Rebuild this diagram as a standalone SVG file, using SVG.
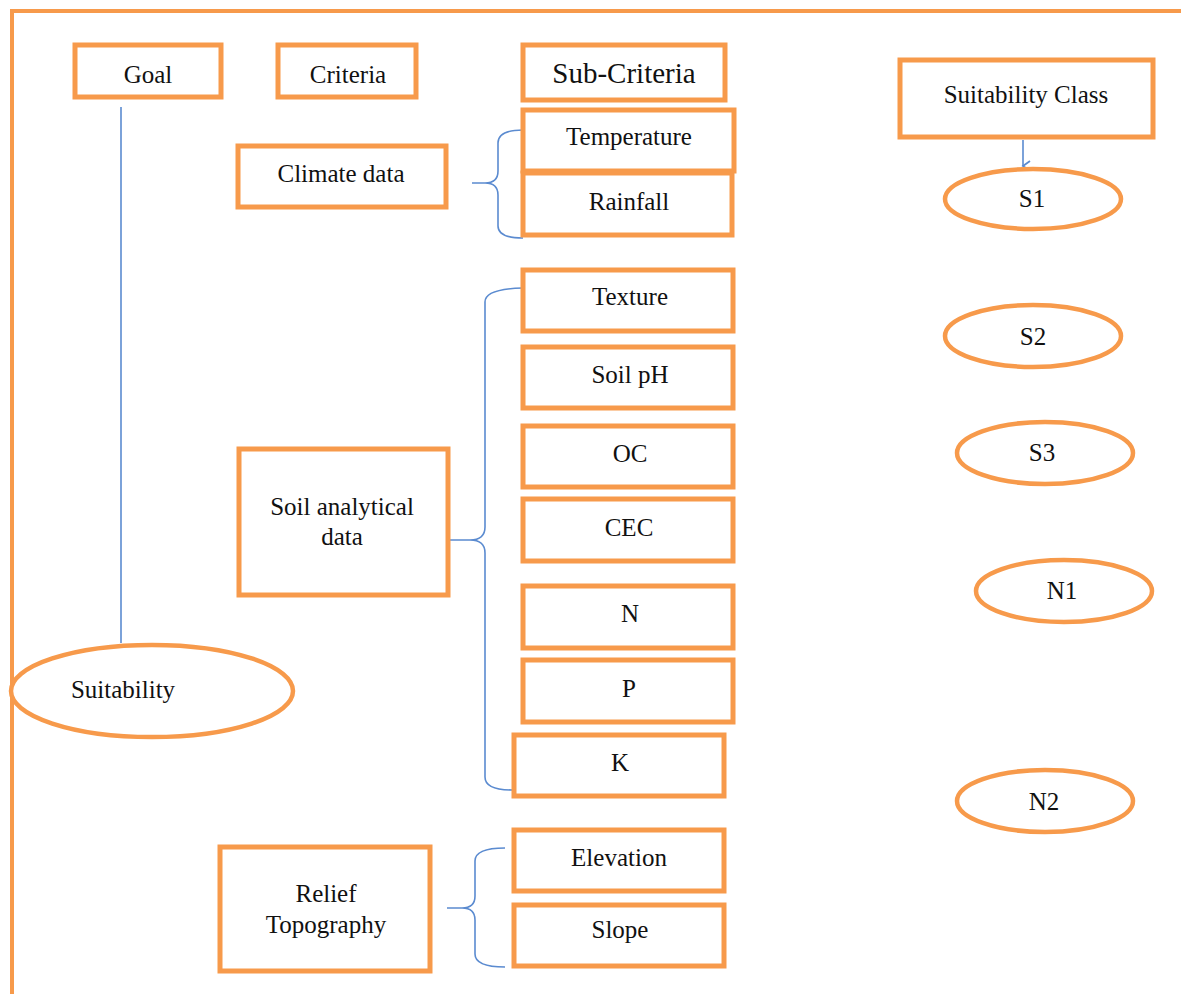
<svg xmlns="http://www.w3.org/2000/svg" width="1181" height="994" viewBox="0 0 1181 994">
<style>
.box{fill:#fff;stroke:#F79A4B;stroke-width:5}
.ov{fill:#fff;stroke:#F79A4B;stroke-width:4.5}
.frame{fill:none;stroke:#F79A4B;stroke-width:4}
.ln{fill:none;stroke:#5B8BD0;stroke-width:1.6}
text{font-family:'Liberation Serif','DejaVu Serif',serif;font-size:25px;fill:#111;text-anchor:middle}
.big{font-size:29px}
</style>
<defs>
<marker id="arr" markerWidth="14" markerHeight="14" refX="7" refY="12" orient="auto" markerUnits="userSpaceOnUse" viewBox="0 0 14 14">
<path d="M2,5 L7,12 L12,5" fill="none" stroke="#5B8BD0" stroke-width="1.8"/>
</marker>
</defs>
<rect width="1181" height="994" fill="#fff"/>
<path class="frame" d="M12,994 L12,11 L1181,11"/>
<g id="connectors">
<line class="ln" x1="121" y1="107" x2="121" y2="643"/>
<path class="ln" d="M1023,140 L1023,166" marker-end="url(#arr)"/>
<path class="ln" d="M472,183 L485,183 Q498,183 498,171 L498,143 Q498,130 523,130 M485,183 Q498,183 498,195 L498,226 Q498,238 523,238"/>
<path class="ln" d="M448,540 L470,540 Q485,540 485,527 L485,302 Q485,289 523,288 M470,540 Q485,540 485,553 L485,777 Q485,790 512,790"/>
<path class="ln" d="M447,908 L462,908 Q475,908 475,896 L475,861 Q475,848 505,848 M462,908 Q475,908 475,920 L475,954 Q475,967 505,967"/>
</g>
<g id="goal"><rect class="box" x="75" y="45" width="146" height="52"/><text x="148" y="83">Goal</text></g>
<g id="criteria"><rect class="box" x="278" y="45" width="138" height="52"/><text x="348" y="83">Criteria</text></g>
<g id="subcriteria"><rect class="box" x="523" y="45" width="202" height="55"/><text class="big" x="624" y="83">Sub-Criteria</text></g>
<g id="suitclass"><rect class="box" x="900" y="60" width="253" height="77"/><text x="1026" y="103">Suitability Class</text></g>
<g id="climate"><rect class="box" x="238" y="146" width="208" height="61"/><text x="341" y="182">Climate data</text></g>
<g id="temperature"><rect class="box" x="523" y="110" width="211" height="61"/><text x="629" y="145">Temperature</text></g>
<g id="rainfall"><rect class="box" x="523" y="173" width="209" height="62"/><text x="629" y="210">Rainfall</text></g>
<g id="soil"><rect class="box" x="239" y="449" width="209" height="146"/><text x="342" y="515">Soil analytical</text><text x="342" y="545">data</text></g>
<g id="texture"><rect class="box" x="523" y="270" width="210" height="61"/><text x="630" y="305">Texture</text></g>
<g id="soilph"><rect class="box" x="523" y="347" width="210" height="61"/><text x="630" y="383">Soil pH</text></g>
<g id="oc"><rect class="box" x="523" y="426" width="210" height="61"/><text x="630" y="462">OC</text></g>
<g id="cec"><rect class="box" x="523" y="499" width="210" height="62"/><text x="629" y="536">CEC</text></g>
<g id="n"><rect class="box" x="523" y="586" width="210" height="62"/><text x="630" y="622">N</text></g>
<g id="p"><rect class="box" x="523" y="660" width="210" height="62"/><text x="629" y="697">P</text></g>
<g id="k"><rect class="box" x="514" y="735" width="210" height="61"/><text x="620" y="771">K</text></g>
<g id="relief"><rect class="box" x="220" y="847" width="210" height="124"/><text x="326" y="902">Relief</text><text x="326" y="933">Topography</text></g>
<g id="elevation"><rect class="box" x="514" y="830" width="210" height="61"/><text x="619" y="866">Elevation</text></g>
<g id="slope"><rect class="box" x="514" y="905" width="210" height="61"/><text x="620" y="938">Slope</text></g>
<g id="suitability"><ellipse class="ov" cx="152" cy="691" rx="141" ry="46"/><text x="123" y="698">Suitability</text></g>
<g id="s1"><ellipse class="ov" cx="1033" cy="199" rx="88" ry="30"/><text x="1032" y="207">S1</text></g>
<g id="s2"><ellipse class="ov" cx="1033" cy="336" rx="88" ry="31"/><text x="1033" y="345">S2</text></g>
<g id="s3"><ellipse class="ov" cx="1045" cy="453" rx="88" ry="31"/><text x="1042" y="461">S3</text></g>
<g id="n1"><ellipse class="ov" cx="1064" cy="591" rx="88" ry="31"/><text x="1062" y="599">N1</text></g>
<g id="n2"><ellipse class="ov" cx="1045" cy="801" rx="88" ry="31"/><text x="1044" y="810">N2</text></g>
</svg>
